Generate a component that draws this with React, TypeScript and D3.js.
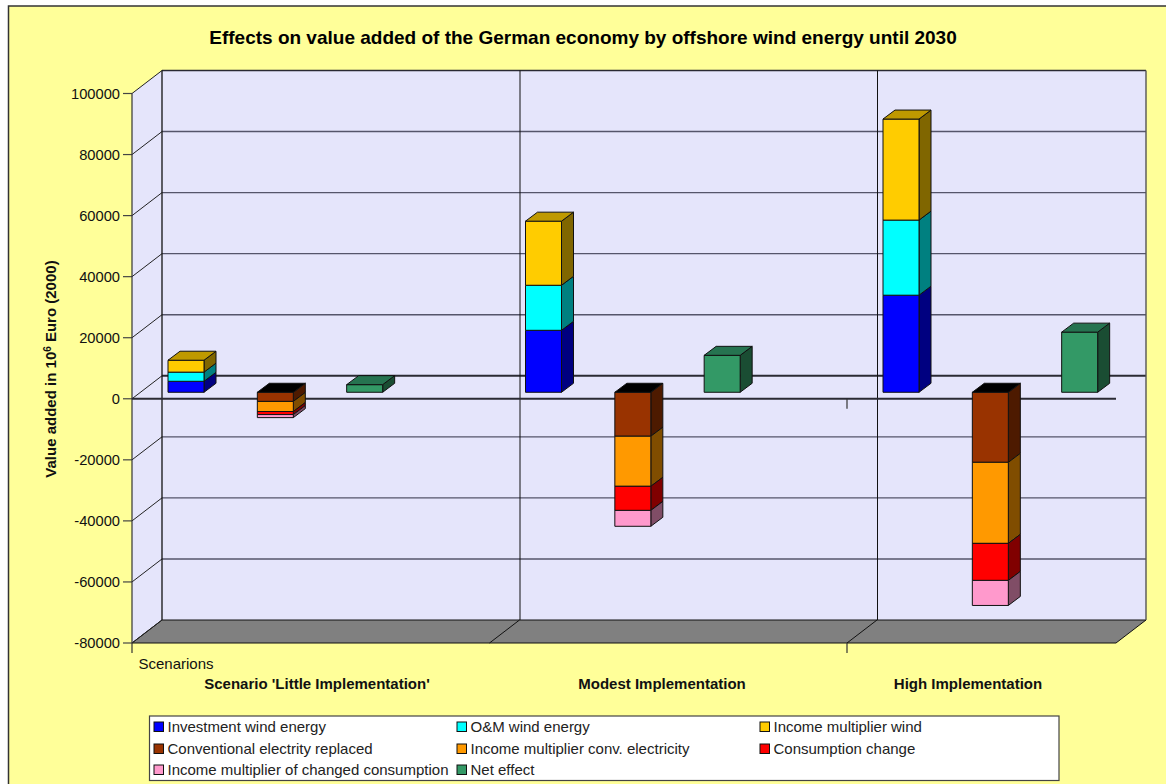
import React from "react";
import * as d3 from "d3";

const scenarios = ["Scenario 'Little Implementation'", "Modest Implementation", "High Implementation"];
const scenarioLabelX = [317, 662, 968];
const yTicks = [100000, 80000, 60000, 40000, 20000, 0, -20000, -40000, -60000, -80000];

const investment = [3600, 20300, 31800];
const omWind = [3000, 14750, 24600];
const incomeWind = [3900, 21000, 33100];
const conventional = [-3000, -14400, -22950];
const incomeConv = [-3300, -16400, -26550];
const consumption = [-1000, -7900, -12130];
const incomeChanged = [-1000, -5200, -8200];
const netEffect = [2500, 12100, 19700];

const legendNames = [
  "Investment wind energy", "O&M wind energy", "Income multiplier wind",
  "Conventional electrity replaced", "Income multiplier conv. electricity", "Consumption change",
  "Income multiplier of changed consumption", "Net effect",
];
const front = ["#0000ff", "#00ffff", "#ffcc00", "#993300", "#ff9900", "#ff0000", "#ff99cc", "#339966"];
const side = ["#000080", "#008080", "#806600", "#4d1a00", "#804d00", "#800000", "#804d66", "#1a4d33"];
const top = ["#000080", "#008080", "#bf9900", "#000000", "#000000", "#000000", "#000000", "#267350"];

const FONT = "'Liberation Sans', Arial, sans-serif";
const y = d3.scaleLinear().domain([-80000, 100000]).range([643, 93.5]);
const X0 = 132, X1 = 1116, WDX = 30, WDY = -23;
const x0 = d3.scaleBand<string>().domain(scenarios).range([X0, X0 + 357.5 * 3]);
const x1 = d3.scaleBand<string>().domain(["pos", "neg", "net"]).range([36, 36 + 268]);
const BW = 36, BDX = 12, BDY = -9, BASE = -6.5;

const stacks = [
  { slot: "pos", series: [[0, investment], [1, omWind], [2, incomeWind]] },
  { slot: "neg", series: [[3, conventional], [4, incomeConv], [5, consumption], [6, incomeChanged]] },
  { slot: "net", series: [[7, netEffect]] },
] as { slot: string; series: [number, number[]][] }[];

function poly(pts: number[][]) {
  return d3.line()(pts as [number, number][])! + "Z";
}

function Bars() {
  const out: React.ReactNode[] = [];
  scenarios.forEach((s, i) => {
    stacks.forEach(({ slot, series }) => {
      const x = x0(s)! + x1(slot)!;
      let acc = 0;
      const segs = series.map(([c, vals]) => {
        const a = acc;
        acc += vals[i];
        return { c, y0: y(a) + BASE, y1: y(acc) + BASE };
      });
      const neg = slot === "neg";
      const capSeg = neg ? segs[0] : segs[segs.length - 1];
      const capY = neg ? capSeg.y0 : capSeg.y1;
      segs.forEach((g, k) => {
        const t = Math.min(g.y0, g.y1), b = Math.max(g.y0, g.y1);
        out.push(
          <g key={`${s}-${slot}-${k}`} stroke="#111" strokeWidth={1} strokeLinejoin="round">
            <path d={poly([[x + BW, t], [x + BW + BDX, t + BDY], [x + BW + BDX, b + BDY], [x + BW, b]])} fill={side[g.c]} />
            <rect x={x} y={t} width={BW} height={b - t} fill={front[g.c]} />
          </g>
        );
      });
      out.push(
        <path key={`${s}-${slot}-cap`} stroke="#111" strokeWidth={1} strokeLinejoin="round"
          d={poly([[x, capY], [x + BDX, capY + BDY], [x + BW + BDX, capY + BDY], [x + BW, capY]])}
          fill={top[capSeg.c]} />
      );
    });
  });
  return <g>{out}</g>;
}

export default function App() {
  const bottom = y(-80000);
  const topY = y(100000);
  const vLines = [x0(scenarios[1])!, x0(scenarios[2])!];
  const cols = [154, 457, 760];
  const rows = [727, 749, 770];
  return (
    <svg width={1166} height={784} style={{ position: "absolute", left: 0, top: 0, display: "block" }} fontFamily={FONT}>
      <rect x={8.5} y={6} width={1170} height={790} fill="#ffff99" stroke="#333" strokeWidth={1.5} />
      <text x={583} y={44} textAnchor="middle" fontSize={19} fontWeight="bold" fill="#000">
        Effects on value added of the German economy by offshore wind energy until 2030
      </text>

      <path d={poly([[X0, topY], [X0 + WDX, topY + WDY], [X1 + WDX, topY + WDY], [X1 + WDX, bottom + WDY], [X0 + WDX, bottom + WDY], [X0, bottom]])} fill="#e5e5fb" />
      <path d={poly([[X0, bottom], [X0 + WDX, bottom + WDY], [X1 + WDX, bottom + WDY], [X1, bottom]])} fill="#808080" stroke="#111" strokeWidth={1} />

      {yTicks.map((t) => {
        const major = t === 0;
        const edge = t === 100000;
        const gy = y(t);
        return (
          <g key={t} fill="none">
            {t !== -80000 && (
              <line x1={X0 + WDX} x2={X1 + WDX} y1={gy + WDY} y2={gy + WDY}
                stroke={major || edge ? "#2a2a33" : "#55556a"} strokeWidth={major ? 2 : 1.4} />
            )}
            <line x1={X0} y1={gy} x2={X0 + WDX} y2={gy + WDY} stroke="#222" strokeWidth={1} />
            <line x1={X0 - 9} x2={X0} y1={gy} y2={gy} stroke="#444" strokeWidth={1.2} />
            <text x={X0 - 12} y={gy + 5} textAnchor="end" fontSize={14.7} fill="#111" stroke="none">{t}</text>
          </g>
        );
      })}
      <line x1={X0 + WDX} x2={X0 + WDX} y1={topY + WDY} y2={bottom + WDY} stroke="#111" strokeWidth={1.3} />
      <line x1={X1 + WDX} x2={X1 + WDX} y1={topY + WDY} y2={bottom + WDY} stroke="#555" strokeWidth={1.4} />
      {vLines.map((v) => (
        <g key={v} stroke="#111">
          <line x1={v + WDX + 0.5} x2={v + WDX + 0.5} y1={topY + WDY} y2={bottom + WDY} strokeWidth={1} />
          <line x1={v} y1={bottom} x2={v + WDX} y2={bottom + WDY} strokeWidth={1} />
        </g>
      ))}
      <line x1={X0} x2={X0} y1={topY} y2={bottom + 10} stroke="#333" strokeWidth={1.2} />
      <line x1={X0} x2={X1} y1={y(0)} y2={y(0)} stroke="#2a2a33" strokeWidth={2} />
      <line x1={vLines[1]} x2={vLines[1]} y1={y(0)} y2={y(0) + 10} stroke="#333" strokeWidth={1.2} />
      <line x1={vLines[1]} x2={vLines[1]} y1={bottom} y2={bottom + 10} stroke="#333" strokeWidth={1.2} />

      <Bars />

      <text x={138.5} y={669} fontSize={15} fill="#111">Scenarions</text>
      {scenarios.map((s, i) => (
        <text key={s} x={scenarioLabelX[i]} y={689} textAnchor="middle" fontSize={15} fontWeight="bold" fill="#111">{s}</text>
      ))}
      <text transform="translate(56,369) rotate(-90)" textAnchor="middle" fontSize={15} fontWeight="bold" fill="#111">
        Value added in 10<tspan fontSize={10} dy={-5}>6</tspan><tspan dy={5}> Euro (2000)</tspan>
      </text>

      <rect x={149.5} y={716} width={909.5} height={64.5} fill="#fff" stroke="#444" strokeWidth={1.2} />
      {legendNames.map((n, i) => {
        const c = cols[i % 3];
        const r = rows[Math.floor(i / 3)];
        return (
          <g key={n}>
            <rect x={c} y={r - 5} width={9.5} height={9.5} fill={front[i]} stroke="#111" strokeWidth={1} />
            <text x={c + 13.5} y={r + 5} fontSize={15} fill="#222">{n}</text>
          </g>
        );
      })}
    </svg>
  );
}
